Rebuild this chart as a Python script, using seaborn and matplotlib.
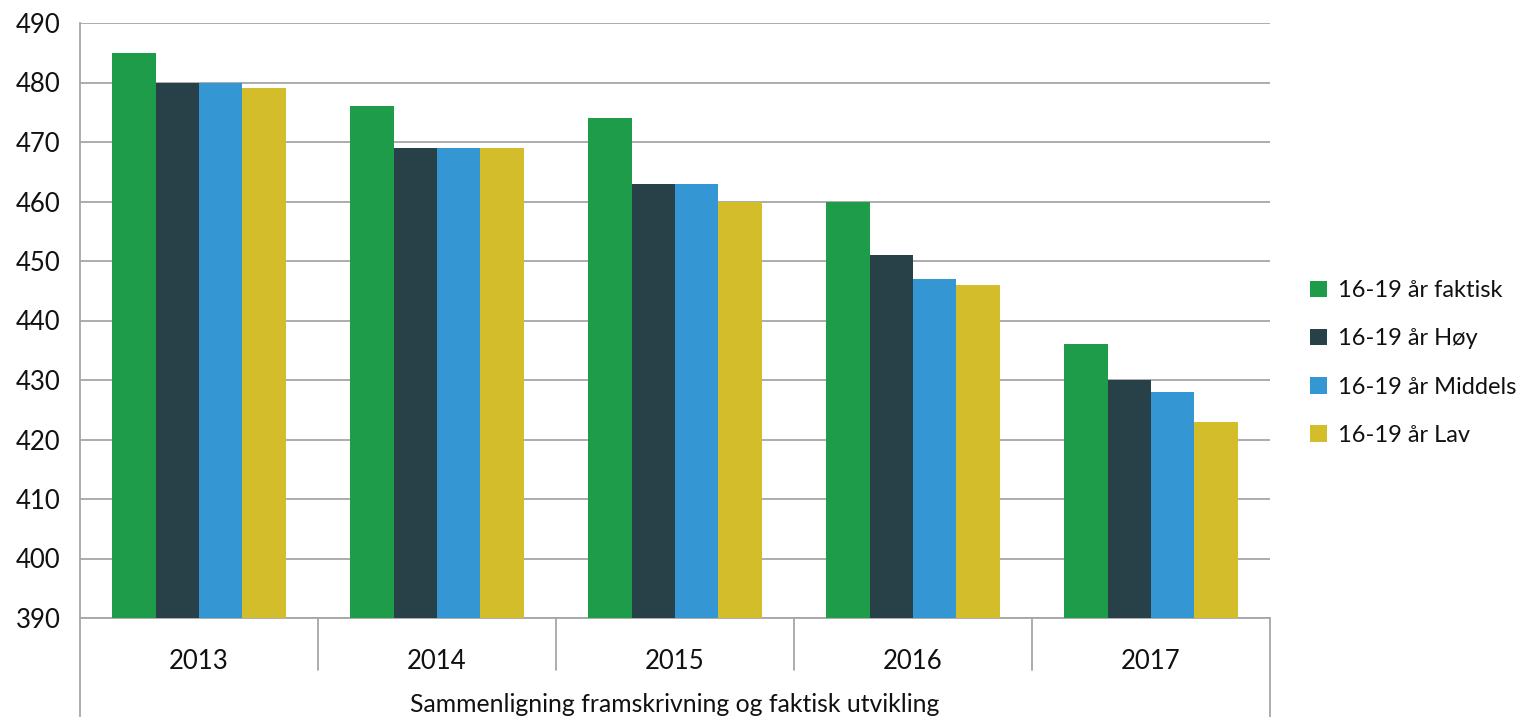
import pandas as pd
import seaborn as sns
import matplotlib.pyplot as plt
import matplotlib.transforms as mtransforms

# data
years = ["2013", "2014", "2015", "2016", "2017"]
series = ["16-19 år faktisk", "16-19 år Høy", "16-19 år Middels", "16-19 år Lav"]
faktisk = [485, 476, 474, 460, 436]
hoy = [480, 469, 463, 451, 430]
middels = [480, 469, 463, 447, 428]
lav = [479, 469, 460, 446, 423]
colors = ["#1e9c4a", "#284148", "#3596d4", "#d3bd2b"]

rows = []
for name, vals in zip(series, [faktisk, hoy, middels, lav]):
    for y, v in zip(years, vals):
        rows.append({"year": y, "serie": name, "value": v})
df = pd.DataFrame(rows)

sns.set_style("white")
plt.rcParams['font.family'] = ['Lato', 'DejaVu Sans']
fs = 18.5

fig = plt.figure(figsize=(15.19, 7.17), dpi=100)
ax = fig.add_axes([80 / 1519, 99 / 717, 1190 / 1519, 595 / 717])

sns.barplot(data=df, x="year", y="value", hue="serie", palette=colors,
            hue_order=series, order=years, width=0.727, saturation=1,
            edgecolor="none", linewidth=0, ax=ax, zorder=3)

ax.set_ylim(390, 490)
ax.set_yticks(range(390, 491, 10))
ax.set_xlim(-0.5, 4.5)
ax.grid(axis="y", color="#a6a6a6", linewidth=1.3, zorder=0)
ax.set_axisbelow(True)
ax.tick_params(axis="y", length=8, color="#a6a6a6", width=1.3, labelsize=fs,
               pad=6, labelcolor="#111111")
ax.tick_params(axis="x", length=0, labelsize=fs, pad=22, labelcolor="#111111")
ax.set_xlabel("")
ax.set_ylabel("")
for s in ["top", "right"]:
    ax.spines[s].set_visible(False)
for s in ["left", "bottom"]:
    ax.spines[s].set_color("#a6a6a6")
    ax.spines[s].set_linewidth(1.3)

# category separators below the axis
trans = mtransforms.blended_transform_factory(ax.transData, ax.transAxes)
for b in [0.5, 1.5, 2.5, 3.5]:
    ax.plot([b, b], [0, -52 / 595], transform=trans, color="#a6a6a6",
            lw=1.3, clip_on=False)
for b in [-0.5, 4.5]:
    ax.plot([b, b], [0, -99 / 595], transform=trans, color="#a6a6a6",
            lw=1.3, clip_on=False)
ax.text(2, -86 / 595, "Sammenligning framskrivning og faktisk utvikling",
        transform=trans, ha="center", va="center", fontsize=17.8, color="#111111")

leg = ax.legend(loc="center left", bbox_to_anchor=(1.026, 0.4286), frameon=False,
                fontsize=17, handlelength=0.7, handleheight=0.7,
                labelspacing=1.15, handletextpad=0.45, borderaxespad=0)
for t in leg.get_texts():
    t.set_color("#111111")

fig.savefig("out.png", dpi=100)
